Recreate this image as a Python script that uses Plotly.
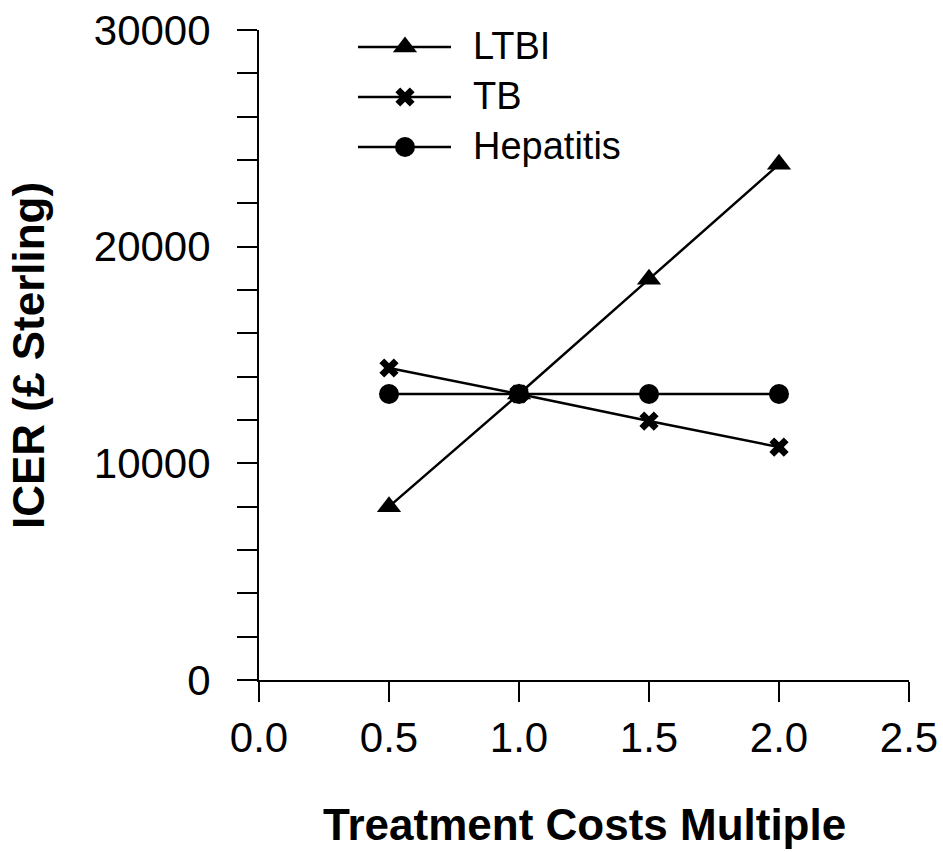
import plotly.graph_objects as go

# ---- data ----
cost_multiple = [0.5, 1.0, 1.5, 2.0]
ltbi = [8000, 13200, 18500, 23800]
tb = [14400, 13200, 11950, 10750]
hepatitis = [13200, 13200, 13200, 13200]
series_names = ["LTBI", "TB", "Hepatitis"]
series_symbols = ["triangle-up", "x", "circle"]
series_sizes = [21, 17, 20]
series_values = [ltbi, tb, hepatitis]

FONT = "Liberation Sans, Arial, sans-serif"
BLACK = "#000000"
LINE_W = 2.5

fig = go.Figure()
for name, vals, sym, sz in zip(series_names, series_values, series_symbols, series_sizes):
    fig.add_trace(go.Scatter(
        x=cost_multiple, y=vals, mode="lines+markers", name=name,
        line=dict(color=BLACK, width=LINE_W),
        marker=dict(symbol=sym, size=sz, color=BLACK, line=dict(width=0)),
        showlegend=False, cliponaxis=False,
    ))

# ---- custom legend drawn on an overlay axis in pixel-like units ----
leg_x0, leg_x1, leg_xm, leg_xt = 358, 451, 405, 471
leg_rows = [47, 97, 147]
for name, sym, sz, yy in zip(series_names, series_symbols, series_sizes, leg_rows):
    fig.add_trace(go.Scatter(
        x=[leg_x0, leg_x1], y=[yy, yy], mode="lines",
        xaxis="x2", yaxis="y2", showlegend=False, hoverinfo="skip",
        line=dict(color=BLACK, width=LINE_W), cliponaxis=False,
    ))
    fig.add_trace(go.Scatter(
        x=[leg_xm], y=[yy], mode="markers",
        xaxis="x2", yaxis="y2", showlegend=False, hoverinfo="skip",
        marker=dict(symbol=sym, size=sz, color=BLACK, opacity=1, line=dict(width=0)),
        cliponaxis=False,
    ))
    fig.add_annotation(x=leg_xt, y=yy - 1, xref="x2", yref="y2", text=name,
                       showarrow=False, xanchor="left", yanchor="middle",
                       font=dict(family=FONT, size=38, color=BLACK))

axis_common = dict(showline=True, linewidth=2, linecolor=BLACK, showgrid=False,
                   zeroline=False, ticks="outside", ticklen=20, tickwidth=2,
                   tickcolor=BLACK, tickfont=dict(family=FONT, size=42, color=BLACK))

fig.update_layout(
    width=943, height=852,
    margin=dict(l=259, r=34, t=30, b=172, autoexpand=False),
    paper_bgcolor="white", plot_bgcolor="white",
    xaxis=dict(range=[0, 2.5], dtick=0.5, tick0=0, tickformat=".1f", automargin=False, **axis_common),
    yaxis=dict(range=[0, 30000], dtick=10000, tick0=0, tickformat="d", automargin=False,
               minor=dict(dtick=2000, ticks="outside", ticklen=20, tickwidth=2, tickcolor=BLACK),
               ticklabelstandoff=18, **axis_common),
    xaxis2=dict(overlaying="x", range=[259, 909], visible=False, fixedrange=True),
    yaxis2=dict(overlaying="y", range=[680, 30], visible=False, fixedrange=True),
    showlegend=False,
    hovermode=False,
)

fig.add_annotation(x=0.5, y=(680 - 824) / 650, xref="paper", yref="paper",
                   text="<b>Treatment Costs Multiple</b>", showarrow=False,
                   xanchor="center", yanchor="middle",
                   font=dict(family=FONT, size=44, color=BLACK))
fig.add_annotation(x=(28 - 259) / 650, y=0.5, xref="paper", yref="paper",
                   text="<b>ICER (£ Sterling)</b>", showarrow=False, textangle=-90,
                   xanchor="center", yanchor="middle",
                   font=dict(family=FONT, size=44, color=BLACK))

fig.write_html("out.html", config={"displayModeBar": False},
               post_script="document.body.style.margin='0';document.body.style.overflow='hidden';")
